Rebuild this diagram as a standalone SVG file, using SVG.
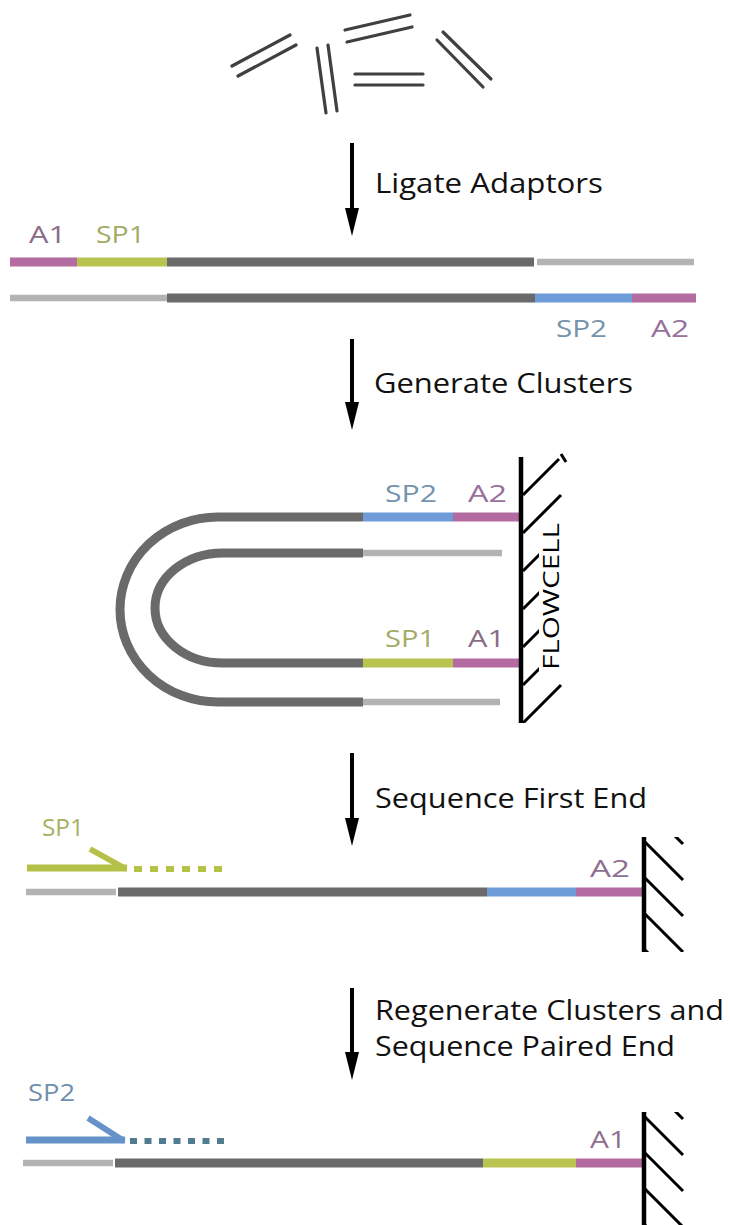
<svg xmlns="http://www.w3.org/2000/svg" width="730" height="1225" viewBox="0 0 730 1225">
<style>
.frag{stroke:#404040;stroke-width:3.2;stroke-linecap:round;fill:none}
.step{font-family:"Open Sans","DejaVu Sans",sans-serif;font-size:27px;fill:#111}
.lab{font-family:"Open Sans","DejaVu Sans",sans-serif;font-size:23px}
.s{fill:none;stroke-width:9;stroke-linecap:butt}
.dk{stroke:#6a6a6a}
.lt{stroke:#b3b3b3;stroke-width:6.5}
.mg{stroke:#b36ba2}
.gr{stroke:#b9c450}
.bl{stroke:#6d9cd8}
.wall{stroke:#000;stroke-width:4.5;fill:none}
.hatch{stroke:#000;stroke-width:3;fill:none}
.shaft{stroke:#000;stroke-width:4}
</style>
<defs>
<clipPath id="c3"><rect x="515" y="457" width="60" height="266"/></clipPath>
<clipPath id="c4"><rect x="640" y="837" width="60" height="115"/></clipPath>
<clipPath id="c5"><rect x="640" y="1112" width="60" height="113"/></clipPath>
</defs>

<g id="fragments">
<line class="frag" x1="232" y1="66" x2="290" y2="35"/>
<line class="frag" x1="238" y1="76" x2="296" y2="45"/>
<line class="frag" x1="317" y1="48" x2="326" y2="113"/>
<line class="frag" x1="328" y1="45" x2="337" y2="111"/>
<line class="frag" x1="345" y1="30" x2="410" y2="15"/>
<line class="frag" x1="347" y1="42" x2="412" y2="27"/>
<line class="frag" x1="355" y1="74" x2="423" y2="74"/>
<line class="frag" x1="355" y1="85" x2="423" y2="85"/>
<line class="frag" x1="443" y1="32" x2="491" y2="79"/>
<line class="frag" x1="437" y1="40" x2="483" y2="87"/>
</g>

<g id="connectors">
<line class="shaft" x1="352" y1="143" x2="352" y2="212"/>
<polygon points="345,208 359,208 352,236"/>
<line class="shaft" x1="352" y1="339" x2="352" y2="406"/>
<polygon points="345,402 359,402 352,430"/>
<line class="shaft" x1="352" y1="753" x2="352" y2="822"/>
<polygon points="345,818 359,818 352,846"/>
<line class="shaft" x1="352" y1="988" x2="352" y2="1056"/>
<polygon points="345,1052 359,1052 352,1080"/>
</g>

<g id="step-labels">
<text class="step" x="375" y="193" textLength="228" lengthAdjust="spacingAndGlyphs">Ligate Adaptors</text>
<text class="step" x="374" y="393" textLength="259" lengthAdjust="spacingAndGlyphs">Generate Clusters</text>
<text class="step" x="375" y="808" textLength="272" lengthAdjust="spacingAndGlyphs">Sequence First End</text>
<text class="step" x="375" y="1020" font-size="26" textLength="349" lengthAdjust="spacingAndGlyphs">Regenerate Clusters and</text>
<text class="step" x="375" y="1056" font-size="26" textLength="300" lengthAdjust="spacingAndGlyphs">Sequence Paired End</text>
</g>

<g id="adaptor-ligation">
<text class="lab" x="29" y="243" fill="#8a6d86" textLength="37" lengthAdjust="spacingAndGlyphs">A1</text>
<text class="lab" x="96" y="243" fill="#a4ab66" textLength="49" lengthAdjust="spacingAndGlyphs">SP1</text>
<line class="s mg" x1="10" y1="262" x2="77" y2="262"/>
<line class="s gr" x1="77" y1="262" x2="167" y2="262"/>
<line class="s dk" x1="167" y1="262" x2="534" y2="262"/>
<line class="s lt" x1="537" y1="262" x2="694" y2="262"/>
<line class="s lt" x1="10" y1="298" x2="167" y2="298"/>
<line class="s dk" x1="167" y1="298" x2="535" y2="298"/>
<line class="s bl" x1="535" y1="298" x2="632" y2="298"/>
<line class="s mg" x1="632" y1="298" x2="696" y2="298"/>
<text class="lab" x="556" y="337" fill="#7593ad" textLength="51" lengthAdjust="spacingAndGlyphs">SP2</text>
<text class="lab" x="651" y="337" fill="#98709a" textLength="38" lengthAdjust="spacingAndGlyphs">A2</text>
</g>

<g id="cluster-bridge">
<path class="s dk" d="M363,517 H218 A98,92.5 0 0 0 218,702 H363"/>
<path class="s dk" d="M363,553 H223 A68,55 0 0 0 223,663 H363"/>
<line class="s bl" x1="363" y1="517" x2="453" y2="517"/>
<line class="s mg" x1="453" y1="517" x2="519" y2="517"/>
<line class="s lt" x1="363" y1="553" x2="502" y2="553"/>
<line class="s gr" x1="363" y1="663" x2="453" y2="663"/>
<line class="s mg" x1="453" y1="663" x2="519" y2="663"/>
<line class="s lt" x1="363" y1="702" x2="500" y2="702"/>
<text class="lab" x="385" y="502" fill="#7593ad" textLength="52" lengthAdjust="spacingAndGlyphs">SP2</text>
<text class="lab" x="468" y="502" fill="#98709a" textLength="39" lengthAdjust="spacingAndGlyphs">A2</text>
<text class="lab" x="385" y="647" fill="#a4ab66" textLength="50" lengthAdjust="spacingAndGlyphs">SP1</text>
<text class="lab" x="468" y="647" fill="#8a6d86" textLength="37" lengthAdjust="spacingAndGlyphs">A1</text>
</g>

<g id="flowcell-1">
<g clip-path="url(#c3)">
<path class="hatch" d="M523,495 L559,459 M523,533 L561,495 M523,571 L561,533 M523,609 L561,571 M523,647 L561,609 M523,685 L561,647 M523,723 L561,685"/>
</g>
<line class="hatch" x1="561" y1="454" x2="566" y2="462"/>
<rect x="539" y="520" width="23" height="152" fill="#fff"/>
<line class="wall" x1="521" y1="457" x2="521" y2="723"/>
<text x="559" y="670" transform="rotate(-90 559 670)" font-family="Open Sans, DejaVu Sans, sans-serif" font-size="21" fill="#000" textLength="147" lengthAdjust="spacingAndGlyphs">FLOWCELL</text>
</g>

<g id="first-end">
<text class="lab" x="42" y="836" fill="#a8b060" textLength="42" lengthAdjust="spacingAndGlyphs">SP1</text>
<line x1="27" y1="868" x2="127" y2="868" stroke="#b5c046" stroke-width="7"/>
<line x1="90" y1="849" x2="126" y2="869" stroke="#b5c046" stroke-width="6"/>
<line x1="134" y1="869" x2="230" y2="869" stroke="#b5c046" stroke-width="6" stroke-dasharray="8 8"/>
<line class="s lt" x1="26" y1="892" x2="116" y2="892"/>
<line class="s dk" x1="118" y1="892" x2="487" y2="892"/>
<line class="s bl" x1="487" y1="892" x2="576" y2="892"/>
<line class="s mg" x1="576" y1="892" x2="643" y2="892"/>
<text class="lab" x="590" y="877" fill="#8f7090" textLength="40" lengthAdjust="spacingAndGlyphs">A2</text>
</g>

<g id="flowcell-2">
<g clip-path="url(#c4)">
<path class="hatch" d="M645,806 L683,844 M645,842 L683,880 M645,878 L683,916 M645,914 L683,952 M645,950 L683,988"/>
</g>
<line class="wall" x1="644" y1="837" x2="644" y2="952"/>
</g>

<g id="paired-end">
<text class="lab" x="28" y="1101" fill="#6f8fad" textLength="47" lengthAdjust="spacingAndGlyphs">SP2</text>
<line x1="26" y1="1140" x2="125" y2="1140" stroke="#6592c8" stroke-width="7"/>
<line x1="88" y1="1118" x2="124" y2="1141" stroke="#6592c8" stroke-width="6"/>
<line x1="130" y1="1141" x2="230" y2="1141" stroke="#4f7c8e" stroke-width="6" stroke-dasharray="7 7.5"/>
<line class="s lt" x1="23" y1="1163" x2="113" y2="1163"/>
<line class="s dk" x1="115" y1="1163" x2="483" y2="1163"/>
<line class="s gr" x1="483" y1="1163" x2="576" y2="1163"/>
<line class="s mg" x1="576" y1="1163" x2="643" y2="1163"/>
<text class="lab" x="590" y="1148" fill="#8f7090" textLength="36" lengthAdjust="spacingAndGlyphs">A1</text>
</g>

<g id="flowcell-3">
<g clip-path="url(#c5)">
<path class="hatch" d="M645,1081 L683,1119 M645,1117 L683,1155 M645,1153 L683,1191 M645,1189 L683,1227 M645,1225 L683,1263"/>
</g>
<line class="wall" x1="644" y1="1112" x2="644" y2="1225"/>
</g>
</svg>
